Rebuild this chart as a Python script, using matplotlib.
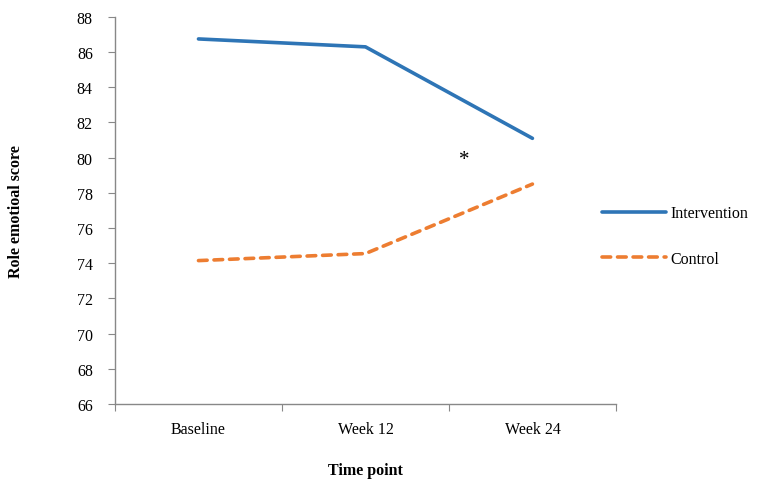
import matplotlib
matplotlib.use("Agg")
import matplotlib.pyplot as plt

# ---------------- DATA ----------------
time_points = ["Baseline", "Week 12", "Week 24"]
intervention = [86.75, 86.3, 81.1]
control = [74.15, 74.55, 78.5]
y_ticks = list(range(66, 89, 2))

plt.rcParams["font.family"] = ["Liberation Serif", "DejaVu Serif"]

# ---------------- PLOT ----------------
fig = plt.figure(figsize=(7.59, 4.85), dpi=100)
ax = fig.add_axes([0.1515, 0.165, 0.66, 0.798])

x = range(len(time_points))
ax.plot(x, intervention, color="#2E75B6", linewidth=2.6, label="Intervention",
        solid_capstyle="round")
ax.plot(x, control, color="#ED7D31", linewidth=2.6, linestyle=(0, (2.4, 1.9)),
        label="Control", dash_capstyle="round")

ax.text(1.59, 79.9, "*", fontsize=15, ha="center", va="center")

ax.set_xlim(-0.5, 2.5)
ax.set_ylim(66, 88)
ax.set_yticks(y_ticks)
ax.set_xticks([-0.5, 0.5, 1.5, 2.5])
ax.set_xticklabels([])
ax.set_xticks(list(x), minor=True)
ax.set_xticklabels(time_points, minor=True)
ax.tick_params(axis="x", which="minor", length=0, pad=12, labelsize=11.5)
ax.tick_params(axis="x", which="major", length=5, color="#888888")
ax.tick_params(axis="y", length=5, color="#888888", labelsize=11.5, pad=11)

for side in ["top", "right"]:
    ax.spines[side].set_visible(False)
for side in ["left", "bottom"]:
    ax.spines[side].set_color("#888888")
    ax.spines[side].set_linewidth(1.0)

ax.set_xlabel("Time point", fontsize=11.5, fontweight="bold", labelpad=18)
ax.set_ylabel("Role emotioal score", fontsize=11.5, fontweight="bold", labelpad=38)

fig.legend(loc="upper left", bbox_to_anchor=(0.774, 0.604), frameon=False,
           fontsize=11.5, handlelength=4.0, labelspacing=1.85, handletextpad=0.3)

fig.savefig("out.png", dpi=100)
